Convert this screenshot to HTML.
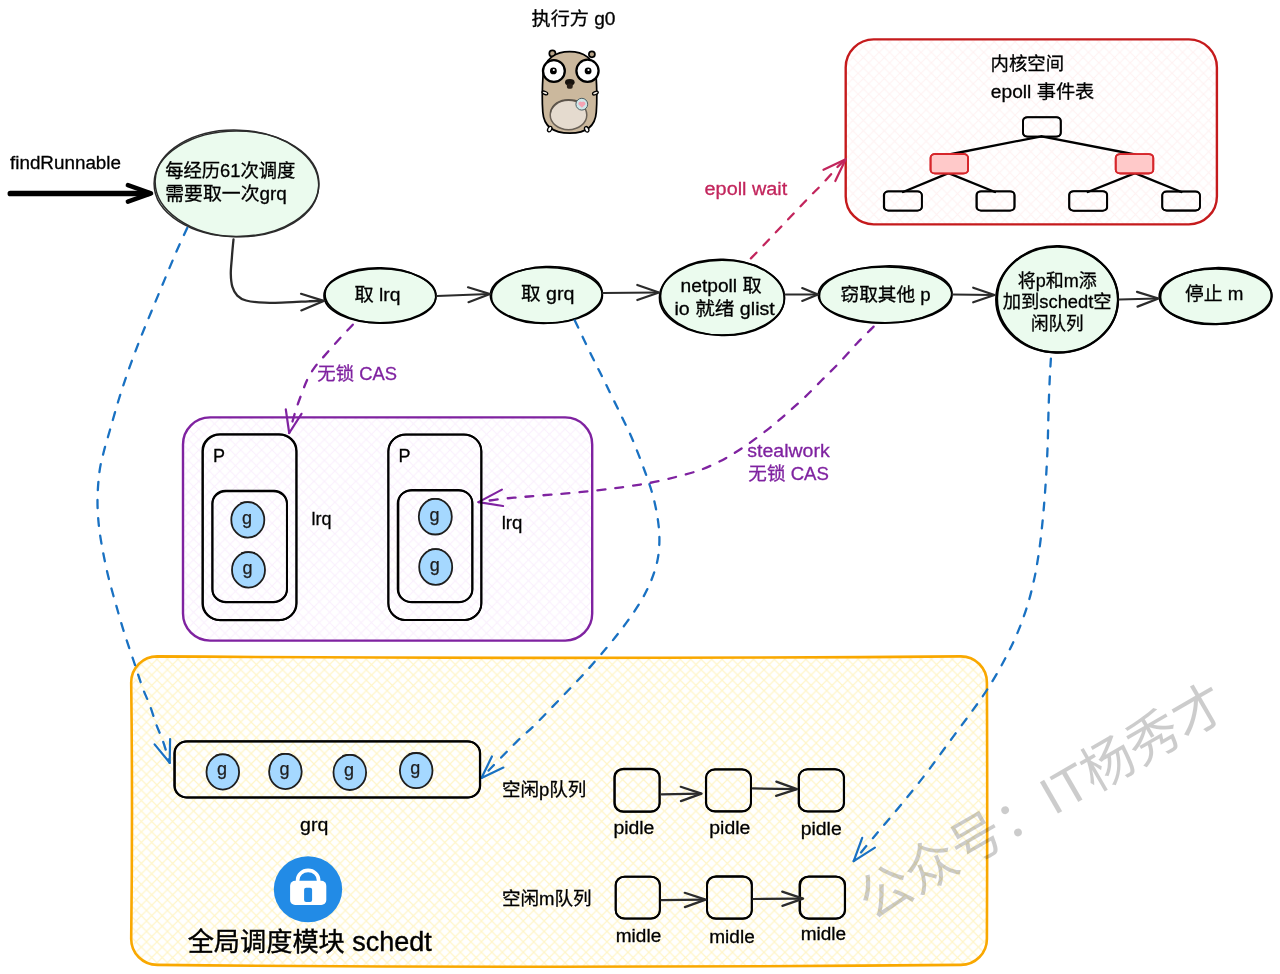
<!DOCTYPE html>
<html lang="zh-CN">
<head>
<meta charset="utf-8">
<title>findRunnable</title>
<style>
html,body{margin:0;padding:0;background:#fff;}
body{width:1280px;height:974px;overflow:hidden;}
svg{display:block;will-change:transform;font-family:'Liberation Sans', 'Noto Sans CJK SC', sans-serif;}
</style>
</head>
<body>
<svg width="1280" height="974" viewBox="0 0 1280 974">
<defs>
<pattern id="hy" width="10.465" height="10.465" patternUnits="userSpaceOnUse"><path d="M0 0L10.465 10.465M0 10.465L10.465 0" stroke="#fff5c9" stroke-width="1.2" fill="none" stroke-linecap="square"/></pattern>
<pattern id="hr" width="10.465" height="10.465" patternUnits="userSpaceOnUse"><path d="M0 0L10.465 10.465M0 10.465L10.465 0" stroke="#fff2f2" stroke-width="1.1" fill="none" stroke-linecap="square"/></pattern>
<pattern id="hp" width="10.465" height="10.465" patternUnits="userSpaceOnUse"><path d="M0 0L10.465 10.465M0 10.465L10.465 0" stroke="#faf0fd" stroke-width="1.15" fill="none" stroke-linecap="square"/></pattern>
</defs>
<rect x="845.7" y="39.4" width="371.2" height="185.0" rx="28" ry="28" fill="url(#hr)" stroke="#c51a1c" stroke-width="2.4" />
<rect x="183.0" y="417.4" width="409.2" height="223.2" rx="27" ry="27" fill="url(#hp)" stroke="#7f22a0" stroke-width="2.4" />
<path d="M157.2 656.4Q559.05 659.4 960.9 656.4A26 26 0 0 1 986.9 682.4Q987.5 810.65 986.9 938.9A26 26 0 0 1 960.9 964.9Q559.05 968.6999999999999 157.2 964.9A26 26 0 0 1 131.2 938.9Q132.79999999999998 810.65 131.2 682.4A26 26 0 0 1 157.2 656.4Z" fill="url(#hy)" stroke="#f9a800" stroke-width="2.6" stroke-linejoin="round"/>
<text x="531.5" y="25.0" font-size="18" fill="#000" stroke="#000" stroke-width="0.29" text-anchor="start" textLength="84.0" lengthAdjust="spacingAndGlyphs" >执行方 g0</text>
<g id="gopher" stroke="#000" stroke-linejoin="round">
<circle cx="552.4" cy="53.5" r="3.1" fill="#b8a488" stroke-width="1.700"/>
<circle cx="591.9" cy="54.3" r="3" fill="#b8a488" stroke-width="1.700"/>
<path d="M569.6 51.6c-13 0-25.500 6.500-26.500 22.500c-0.800 12-1.200 26-0.300 38c1 14 9.500 21 27 21s25.500-7 26.500-21c0.900-12 0.500-26-0.300-38c-1-16-13.400-22.500-26.400-22.500z" fill="#cbb89d" stroke-width="1.700"/>
<ellipse cx="568.5" cy="115" rx="18.300" ry="14.700" fill="#e5dbcf" stroke="#6a6157" stroke-width="1.500"/>
<path d="M550.600 112c1.500-8 9-12.200 18-12.300c4 0 7.500 0.600 10 1.800" fill="none" stroke="#5b5349" stroke-width="1.400" stroke-linecap="round"/>
<circle cx="553.9" cy="71" r="10.900" fill="#fff" stroke-width="2.300"/>
<circle cx="587.5" cy="70.800" r="11.100" fill="#fff" stroke-width="2.300"/>
<circle cx="553.4" cy="70.900" r="3.400" fill="#000" stroke="none"/>
<circle cx="588.1" cy="70.900" r="3.400" fill="#000" stroke="none"/>
<circle cx="553.8" cy="70" r="1.100" fill="#fff" stroke="none"/>
<circle cx="588.5" cy="70" r="1.100" fill="#fff" stroke="none"/>
<ellipse cx="569.8" cy="82.300" rx="4.800" ry="3.300" fill="#17120d" stroke="none"/>
<rect x="566.9" y="83.500" width="5.800" height="5.200" rx="1.800" fill="#2a2018" stroke="none"/>
<ellipse cx="544.9" cy="92.900" rx="3" ry="1.500" fill="#efe9e0" stroke-width="1.300" transform="rotate(22 544.9 92.9)"/>
<ellipse cx="595.4" cy="93.100" rx="3" ry="1.500" fill="#efe9e0" stroke-width="1.300" transform="rotate(-22 595.4 93.1)"/>
<ellipse cx="549.7" cy="129.100" rx="1.900" ry="2.900" fill="#fff" stroke-width="1.300" transform="rotate(28 549.7 129.1)"/>
<ellipse cx="586.7" cy="129.300" rx="1.900" ry="2.900" fill="#fff" stroke-width="1.300" transform="rotate(-28 586.7 129.3)"/>
<circle cx="581.8" cy="104.200" r="5.900" fill="#cfe8ea" stroke="#4d5e63" stroke-width="1"/>
<path d="M581.9 107.700l-3.400-3.300a2.100 2.100 0 0 1 3.400-2.300a2.100 2.100 0 0 1 3.400 2.300z" fill="#f4a3b3" stroke="none"/>
</g>
<text x="10.0" y="169.4" font-size="18" fill="#000" stroke="#000" stroke-width="0.29" text-anchor="start" textLength="111.0" lengthAdjust="spacingAndGlyphs" >findRunnable</text>
<path d="M10.3 193.6C50 193.2 100 194 149 193.4" fill="none" stroke="#000" stroke-width="5.5" stroke-linecap="round" stroke-linejoin="round"/>
<path d="M127.9 201.6L151.0 193.4L127.9 185.2" fill="none" stroke="#000" stroke-width="4.6" stroke-linecap="round" stroke-linejoin="round"/>
<ellipse cx="236.5" cy="183.7" rx="82.4" ry="52.8" fill="#ebfbee" stroke="#2b2b2b" stroke-width="1.5"/>
<ellipse cx="236.9" cy="183.4" rx="81.8" ry="53.3" fill="none" stroke="#2b2b2b" stroke-width="1.5" transform="rotate(2 236.5 183.7)"/>
<text x="165.2" y="177.2" font-size="18.2" fill="#000" stroke="#000" stroke-width="0.29" text-anchor="start" textLength="130.2" lengthAdjust="spacingAndGlyphs" >每经历61次调度</text>
<text x="165.2" y="200.4" font-size="18.2" fill="#000" stroke="#000" stroke-width="0.29" text-anchor="start" textLength="121.6" lengthAdjust="spacingAndGlyphs" >需要取一次grq</text>
<ellipse cx="380.0" cy="295.8" rx="56.0" ry="27.1" fill="#ebfbee" stroke="#000" stroke-width="1.7"/>
<ellipse cx="380.4" cy="295.5" rx="55.4" ry="27.6" fill="none" stroke="#000" stroke-width="1.7" transform="rotate(1.5 380.0 295.8)"/>
<text x="354.5" y="300.5" font-size="18" fill="#000" stroke="#000" stroke-width="0.29" text-anchor="start" textLength="46.0" lengthAdjust="spacingAndGlyphs" >取 lrq</text>
<ellipse cx="546.4" cy="295.3" rx="56.0" ry="27.8" fill="#ebfbee" stroke="#000" stroke-width="1.7"/>
<ellipse cx="546.8" cy="295.0" rx="55.4" ry="28.3" fill="none" stroke="#000" stroke-width="1.7" transform="rotate(-2 546.4 295.3)"/>
<text x="521.0" y="300.1" font-size="18" fill="#000" stroke="#000" stroke-width="0.29" text-anchor="start" textLength="53.5" lengthAdjust="spacingAndGlyphs" >取 grq</text>
<ellipse cx="722.0" cy="297.7" rx="62.5" ry="37.5" fill="#ebfbee" stroke="#000" stroke-width="1.7"/>
<ellipse cx="722.4" cy="297.4" rx="61.9" ry="38.0" fill="none" stroke="#000" stroke-width="1.7" transform="rotate(1.5 722.0 297.7)"/>
<text x="680.6" y="291.5" font-size="18" fill="#000" stroke="#000" stroke-width="0.29" text-anchor="start" textLength="81.0" lengthAdjust="spacingAndGlyphs" >netpoll 取</text>
<text x="674.4" y="315.0" font-size="18" fill="#000" stroke="#000" stroke-width="0.29" text-anchor="start" textLength="100.4" lengthAdjust="spacingAndGlyphs" >io 就绪 glist</text>
<ellipse cx="885.2" cy="294.8" rx="66.8" ry="28.0" fill="#ebfbee" stroke="#000" stroke-width="1.7"/>
<ellipse cx="885.6" cy="294.5" rx="66.2" ry="28.5" fill="none" stroke="#000" stroke-width="1.7" transform="rotate(-1.5 885.2 294.8)"/>
<text x="840.5" y="301.0" font-size="18" fill="#000" stroke="#000" stroke-width="0.29" text-anchor="start" textLength="90.2" lengthAdjust="spacingAndGlyphs" >窃取其他 p</text>
<ellipse cx="1057.1" cy="299.6" rx="61.0" ry="52.8" fill="#ebfbee" stroke="#000" stroke-width="2.1"/>
<ellipse cx="1057.5" cy="299.3" rx="60.4" ry="53.3" fill="none" stroke="#000" stroke-width="2.1" transform="rotate(2 1057.1 299.6)"/>
<text x="1057.2" y="286.5" font-size="18" fill="#000" stroke="#000" stroke-width="0.29" text-anchor="middle" textLength="79.0" lengthAdjust="spacingAndGlyphs" >将p和m添</text>
<text x="1057.2" y="308.2" font-size="18" fill="#000" stroke="#000" stroke-width="0.29" text-anchor="middle" textLength="109.0" lengthAdjust="spacingAndGlyphs" >加到schedt空</text>
<text x="1057.2" y="330.0" font-size="18" fill="#000" stroke="#000" stroke-width="0.29" text-anchor="middle" textLength="52.6" lengthAdjust="spacingAndGlyphs" >闲队列</text>
<ellipse cx="1215.6" cy="296.4" rx="56.2" ry="27.7" fill="#ebfbee" stroke="#000" stroke-width="2"/>
<ellipse cx="1216.0" cy="296.1" rx="55.6" ry="28.2" fill="none" stroke="#000" stroke-width="2" transform="rotate(-1.5 1215.6 296.4)"/>
<text x="1185.0" y="299.7" font-size="18" fill="#000" stroke="#000" stroke-width="0.29" text-anchor="start" textLength="58.4" lengthAdjust="spacingAndGlyphs" >停止 m</text>
<path d="M233.5 239.3C233.2 242.3 232.3 251.6 231.9 257.3C231.5 263.0 230.7 268.8 230.8 273.7C230.9 278.6 231.3 283.2 232.4 286.9C233.5 290.5 235.0 293.3 237.3 295.6C239.6 297.9 241.5 299.3 246.1 300.5C250.7 301.7 257.9 302.4 264.7 302.7C271.4 303.0 279.3 302.6 286.6 302.4C293.9 302.2 302.2 301.6 308.4 301.3C314.6 301.1 321.1 301.0 323.7 300.9" fill="none" stroke="#2b2b2b" stroke-width="2.3" stroke-linecap="round"/>
<path d="M301 293.8L323.700 300.9L301.300 310.400" fill="none" stroke="#2b2b2b" stroke-width="2.2" stroke-linecap="round" stroke-linejoin="round"/>
<path d="M437 296L489 294" fill="none" stroke="#2b2b2b" stroke-width="2.2" stroke-linecap="round" stroke-linejoin="round"/>
<path d="M468.5 302.2L490.0 294.0L468.0 287.3" fill="none" stroke="#2b2b2b" stroke-width="2.2" stroke-linecap="round" stroke-linejoin="round"/>
<path d="M603 293L658 292.500" fill="none" stroke="#2b2b2b" stroke-width="2.2" stroke-linecap="round" stroke-linejoin="round"/>
<path d="M637.3 300.0L659.0 292.5L637.3 285.0" fill="none" stroke="#2b2b2b" stroke-width="2.2" stroke-linecap="round" stroke-linejoin="round"/>
<path d="M785.500 294.500L817 294.500" fill="none" stroke="#2b2b2b" stroke-width="2.2" stroke-linecap="round" stroke-linejoin="round"/>
<path d="M802.2 300.9L818.0 294.5L802.2 288.1" fill="none" stroke="#2b2b2b" stroke-width="2.2" stroke-linecap="round" stroke-linejoin="round"/>
<path d="M952.500 294.500L993 295" fill="none" stroke="#2b2b2b" stroke-width="2.2" stroke-linecap="round" stroke-linejoin="round"/>
<path d="M973.2 302.3L994.5 295.0L973.2 287.7" fill="none" stroke="#2b2b2b" stroke-width="2.2" stroke-linecap="round" stroke-linejoin="round"/>
<path d="M1119.500 299.500L1157 298.500" fill="none" stroke="#2b2b2b" stroke-width="2.2" stroke-linecap="round" stroke-linejoin="round"/>
<path d="M1137.5 306.6L1158.5 298.5L1137.0 291.9" fill="none" stroke="#2b2b2b" stroke-width="2.2" stroke-linecap="round" stroke-linejoin="round"/>
<path d="M187.2 227.9C185.4 231.9 180.1 243.1 176.2 252.1C172.3 261.1 167.9 271.8 163.8 281.6C159.7 291.5 155.4 301.8 151.5 311.2C147.6 320.6 144.1 328.9 140.4 338.3C136.7 347.8 132.8 358.0 129.3 367.9C125.8 377.8 122.5 387.6 119.4 397.5C116.3 407.4 113.4 418.0 110.8 427.1C108.2 436.2 105.6 444.5 103.7 452.0C101.8 459.5 100.4 464.3 99.4 472.2C98.4 480.1 97.6 490.7 97.5 499.3C97.4 507.9 97.9 515.8 98.7 524.0C99.5 532.2 100.8 540.0 102.4 548.6C104.0 557.2 105.9 566.7 108.1 575.7C110.3 584.8 112.8 593.5 115.5 602.9C118.2 612.3 121.0 622.5 124.1 632.4C127.2 642.2 130.9 652.8 134.0 662.0C137.1 671.2 140.0 680.8 142.6 687.9C145.2 695.0 147.4 698.8 149.7 704.9C152.0 711.0 154.1 718.6 156.3 724.6C158.5 730.6 160.7 734.6 162.9 741.0C165.1 747.4 168.6 759.2 169.7 762.8" fill="none" stroke="#1971c2" stroke-width="2.3" stroke-linecap="round" stroke-linejoin="round" stroke-dasharray="8 10"/>
<path d="M154.6 744.4L169.7 762.8L170.1 739" fill="none" stroke="#1971c2" stroke-width="2.1999999999999997" stroke-linecap="round" stroke-linejoin="round"/>
<path d="M574.8 320.5C577.5 326.1 585.8 343.6 590.9 354.2C596.0 364.8 600.5 373.2 605.7 383.8C610.9 394.4 617.6 408.1 622.1 417.5C626.6 426.9 628.9 430.9 632.7 440.0C636.5 449.1 641.7 462.6 645.1 472.0C648.5 481.4 651.0 488.5 653.2 496.7C655.4 504.9 657.1 514.0 658.1 521.4C659.1 528.8 659.5 534.5 659.4 541.1C659.3 547.7 658.8 554.2 657.4 560.8C656.0 567.4 653.9 573.9 651.2 580.5C648.5 587.1 645.5 593.3 641.4 600.3C637.3 607.3 632.0 615.0 626.6 622.4C621.2 629.8 616.3 636.2 609.3 644.6C602.3 653.0 593.1 663.8 584.7 673.0C576.3 682.2 567.6 691.1 559.0 700.0C550.4 708.9 540.0 719.8 533.1 726.6C526.2 733.4 526.1 732.4 517.5 740.9C508.9 749.4 487.5 771.7 481.5 777.9" fill="none" stroke="#1971c2" stroke-width="2.3" stroke-linecap="round" stroke-linejoin="round" stroke-dasharray="8 10"/>
<path d="M491.9 756.5L481.5 777.9L503.4 767.6" fill="none" stroke="#1971c2" stroke-width="2.1999999999999997" stroke-linecap="round" stroke-linejoin="round"/>
<path d="M1050.9 358.6C1050.7 362.1 1050.1 370.8 1049.7 379.6C1049.3 388.4 1048.8 400.9 1048.5 411.6C1048.2 422.3 1048.1 432.6 1047.7 443.7C1047.3 454.8 1046.7 467.1 1046.0 478.2C1045.3 489.3 1044.5 500.0 1043.6 510.3C1042.7 520.6 1041.6 531.2 1040.6 539.8C1039.6 548.4 1038.5 555.3 1037.4 562.0C1036.3 568.7 1035.6 573.0 1034.0 580.0C1032.4 587.0 1030.6 595.3 1027.9 603.9C1025.2 612.5 1021.9 622.4 1018.0 631.6C1014.1 640.8 1009.8 649.8 1004.8 659.3C999.8 668.8 993.7 679.4 987.8 688.6C981.9 697.9 976.1 705.6 969.4 714.8C962.7 724.0 955.0 734.2 947.8 744.0C940.6 753.8 933.9 763.3 926.2 773.3C918.5 783.3 909.8 794.1 901.6 804.1C893.4 814.1 885.0 823.8 877.0 833.3C869.0 842.8 857.6 856.5 853.7 861.1" fill="none" stroke="#1971c2" stroke-width="2.3" stroke-linecap="round" stroke-linejoin="round" stroke-dasharray="8 10"/>
<path d="M862.2 837.8L853.7 861.1L874.9 847.6" fill="none" stroke="#1971c2" stroke-width="2.1999999999999997" stroke-linecap="round" stroke-linejoin="round"/>
<path d="M352.8 324.7C351.0 326.6 345.8 332.0 342.1 336.0C338.4 340.0 334.3 344.7 330.7 348.7C327.1 352.7 323.5 356.9 320.7 360.1C317.9 363.3 316.3 364.9 314.1 368.1C311.9 371.3 309.4 375.3 307.4 379.4C305.4 383.5 303.8 388.1 302.0 392.8C300.2 397.5 298.2 402.8 296.7 407.5C295.1 412.2 293.9 416.6 292.7 420.8C291.4 425.1 289.8 431.0 289.2 433.0" fill="none" stroke="#7f22a0" stroke-width="2.3" stroke-linecap="round" stroke-linejoin="round" stroke-dasharray="8 10"/>
<path d="M285.8 409.4L289.2 433L301.5 413.8" fill="none" stroke="#7f22a0" stroke-width="2.1999999999999997" stroke-linecap="round" stroke-linejoin="round"/>
<path d="M873.6 326.6C870.9 329.4 862.8 337.2 857.1 343.2C851.4 349.2 845.4 356.3 839.6 362.4C833.8 368.5 828.0 374.0 822.2 379.8C816.4 385.6 810.5 391.8 804.7 397.3C798.9 402.8 793.1 407.9 787.3 413.0C781.5 418.1 776.2 422.7 769.8 427.8C763.4 432.9 755.3 439.0 748.9 443.5C742.5 448.0 736.8 451.6 731.4 454.9C726.0 458.1 722.1 460.4 716.5 463.0C710.9 465.6 704.8 468.5 698.0 470.8C691.2 473.1 684.1 474.9 675.9 477.0C667.7 479.1 657.8 481.4 648.8 483.1C639.8 484.8 631.1 486.0 621.6 487.3C612.1 488.6 602.3 489.9 592.0 491.0C581.7 492.1 570.6 493.0 560.0 493.9C549.4 494.8 537.9 495.7 528.6 496.5C519.3 497.3 512.8 497.7 504.4 498.6C496.0 499.5 482.8 501.5 478.5 502.1" fill="none" stroke="#7f22a0" stroke-width="2.3" stroke-linecap="round" stroke-linejoin="round" stroke-dasharray="8 10"/>
<path d="M501.9 489.6L478.5 502.1L503.1 506" fill="none" stroke="#7f22a0" stroke-width="2.1999999999999997" stroke-linecap="round" stroke-linejoin="round"/>
<path d="M750.9 258.4C753.2 256.0 760.2 248.8 764.5 244.3C768.8 239.8 772.9 235.4 776.8 231.3C780.7 227.2 784.2 223.5 787.9 219.6C791.6 215.7 795.3 211.8 799.0 207.9C802.7 204.0 806.4 200.0 810.1 196.2C813.8 192.4 817.5 189.0 821.2 185.1C824.9 181.2 829.6 175.8 832.3 172.8C835.0 169.8 835.0 169.6 837.2 167.3C839.4 165.0 844.3 160.5 845.7 159.2" fill="none" stroke="#c2255c" stroke-width="2.3" stroke-linecap="round" stroke-linejoin="round" stroke-dasharray="8 10"/>
<path d="M823.5 169.8L845.7 159.2L835.3 181" fill="none" stroke="#c2255c" stroke-width="2.1999999999999997" stroke-linecap="round" stroke-linejoin="round"/>
<text x="704.6" y="195.3" font-size="18" fill="#c2255c" stroke="#c2255c" stroke-width="0.29" text-anchor="start" textLength="82.6" lengthAdjust="spacingAndGlyphs" >epoll wait</text>
<text x="317.3" y="379.5" font-size="18" fill="#7f22a0" stroke="#7f22a0" stroke-width="0.29" text-anchor="start" textLength="79.6" lengthAdjust="spacingAndGlyphs" >无锁 CAS</text>
<text x="747.3" y="457.2" font-size="18" fill="#7f22a0" stroke="#7f22a0" stroke-width="0.29" text-anchor="start" textLength="82.4" lengthAdjust="spacingAndGlyphs" >stealwork</text>
<text x="748.3" y="480.2" font-size="18" fill="#7f22a0" stroke="#7f22a0" stroke-width="0.29" text-anchor="start" textLength="80.6" lengthAdjust="spacingAndGlyphs" >无锁 CAS</text>
<text x="990.6" y="69.6" font-size="18" fill="#000" stroke="#000" stroke-width="0.29" text-anchor="start" textLength="73.4" lengthAdjust="spacingAndGlyphs" >内核空间</text>
<text x="990.8" y="97.6" font-size="18" fill="#000" stroke="#000" stroke-width="0.29" text-anchor="start" textLength="103.5" lengthAdjust="spacingAndGlyphs" >epoll 事件表</text>
<path d="M1041.5 136.3L949.2 154.5" stroke="#000" stroke-width="2.300" stroke-linecap="round"/>
<path d="M1041.5 136.3L1135 154.5" stroke="#000" stroke-width="2.300" stroke-linecap="round"/>
<path d="M948.5 173.1L903 192" stroke="#000" stroke-width="2.300" stroke-linecap="round"/>
<path d="M948.5 173.1L995 192" stroke="#000" stroke-width="2.300" stroke-linecap="round"/>
<path d="M1135 173.1L1087.8 192" stroke="#000" stroke-width="2.300" stroke-linecap="round"/>
<path d="M1135 173.1L1181.4 192" stroke="#000" stroke-width="2.300" stroke-linecap="round"/>
<rect x="1023.1" y="117.4" width="37.6" height="19.2" rx="4" ry="4" fill="none" stroke="#000" stroke-width="1.8"/>
<rect x="1023.0" y="117.1" width="37.8" height="19.6" rx="4.8" ry="3.4" fill="none" stroke="#000" stroke-width="1.8"/>
<rect x="930.5" y="154.2" width="37.6" height="19.2" rx="4" ry="4" fill="#ffc9c9" stroke="#d6262b" stroke-width="1.8"/>
<rect x="930.6" y="153.9" width="37.4" height="19.7" rx="4.8" ry="3.4" fill="none" stroke="#d6262b" stroke-width="1.8"/>
<rect x="1115.7" y="154.2" width="37.6" height="19.2" rx="4" ry="4" fill="#ffc9c9" stroke="#d6262b" stroke-width="1.8"/>
<rect x="1115.7" y="154.1" width="37.6" height="19.4" rx="4.8" ry="3.4" fill="none" stroke="#d6262b" stroke-width="1.8"/>
<rect x="884.2" y="191.4" width="37.6" height="19.2" rx="4" ry="4" fill="none" stroke="#000" stroke-width="1.8"/>
<rect x="883.8" y="191.4" width="38.1" height="19.2" rx="4.8" ry="3.4" fill="none" stroke="#000" stroke-width="1.8"/>
<rect x="976.8" y="191.4" width="37.6" height="19.2" rx="4" ry="4" fill="none" stroke="#000" stroke-width="1.8"/>
<rect x="976.4" y="191.3" width="38.2" height="19.3" rx="4.8" ry="3.4" fill="none" stroke="#000" stroke-width="1.8"/>
<rect x="1069.4" y="191.4" width="37.6" height="19.2" rx="4" ry="4" fill="none" stroke="#000" stroke-width="1.8"/>
<rect x="1069.1" y="191.1" width="38.1" height="19.7" rx="4.8" ry="3.4" fill="none" stroke="#000" stroke-width="1.8"/>
<rect x="1162.3" y="191.4" width="37.6" height="19.2" rx="4" ry="4" fill="none" stroke="#000" stroke-width="1.8"/>
<rect x="1162.2" y="191.7" width="37.7" height="18.8" rx="4.8" ry="3.4" fill="none" stroke="#000" stroke-width="1.8"/>
<rect x="202.9" y="434.6" width="93.4" height="185.4" rx="17" ry="17" fill="none" stroke="#000" stroke-width="1.9"/>
<rect x="202.4" y="434.2" width="94.2" height="186.0" rx="17.8" ry="16.4" fill="none" stroke="#000" stroke-width="1.9"/>
<rect x="212.3" y="490.6" width="74.7" height="111.6" rx="13" ry="13" fill="none" stroke="#000" stroke-width="1.9"/>
<rect x="212.5" y="491.2" width="74.4" height="110.7" rx="13.8" ry="12.4" fill="none" stroke="#000" stroke-width="1.9"/>
<ellipse cx="247.8" cy="519.9" rx="16.5" ry="17.8" fill="#a5d8ff" stroke="#1e1e1e" stroke-width="1.800"/>
<path d="M240.8 502.9Q246.8 500.9 253.8 502.7" fill="none" stroke="#1e1e1e" stroke-width="1.200" stroke-linecap="round"/>
<text x="246.9" y="524.1" font-size="18" fill="#1e1e1e" stroke="#1e1e1e" stroke-width="0.25" text-anchor="middle">g</text>
<ellipse cx="248.5" cy="569.9" rx="16.5" ry="17.8" fill="#a5d8ff" stroke="#1e1e1e" stroke-width="1.800"/>
<path d="M241.5 552.9Q247.5 550.9 254.5 552.7" fill="none" stroke="#1e1e1e" stroke-width="1.200" stroke-linecap="round"/>
<text x="247.6" y="574.1" font-size="18" fill="#1e1e1e" stroke="#1e1e1e" stroke-width="0.25" text-anchor="middle">g</text>
<text x="213.0" y="462.2" font-size="18" fill="#000" stroke="#000" stroke-width="0.29" text-anchor="start" >P</text>
<rect x="388.3" y="434.6" width="93.1" height="185.4" rx="17" ry="17" fill="none" stroke="#000" stroke-width="1.9"/>
<rect x="388.4" y="434.5" width="92.9" height="185.6" rx="17.8" ry="16.4" fill="none" stroke="#000" stroke-width="1.9"/>
<rect x="397.7" y="490.6" width="74.8" height="111.3" rx="13" ry="13" fill="none" stroke="#000" stroke-width="1.9"/>
<rect x="398.4" y="490.0" width="73.8" height="112.3" rx="13.8" ry="12.4" fill="none" stroke="#000" stroke-width="1.9"/>
<ellipse cx="435.3" cy="516.7" rx="16.5" ry="17.8" fill="#a5d8ff" stroke="#1e1e1e" stroke-width="1.800"/>
<path d="M428.3 499.70000000000005Q434.3 497.70000000000005 441.3 499.50000000000006" fill="none" stroke="#1e1e1e" stroke-width="1.200" stroke-linecap="round"/>
<text x="434.4" y="520.7" font-size="18" fill="#1e1e1e" stroke="#1e1e1e" stroke-width="0.25" text-anchor="middle">g</text>
<ellipse cx="435.7" cy="567" rx="16.5" ry="17.8" fill="#a5d8ff" stroke="#1e1e1e" stroke-width="1.800"/>
<path d="M428.7 550.0Q434.7 548.0 441.7 549.8000000000001" fill="none" stroke="#1e1e1e" stroke-width="1.200" stroke-linecap="round"/>
<text x="434.8" y="570.8" font-size="18" fill="#1e1e1e" stroke="#1e1e1e" stroke-width="0.25" text-anchor="middle">g</text>
<text x="398.5" y="462.2" font-size="18" fill="#000" stroke="#000" stroke-width="0.29" text-anchor="start" >P</text>
<text x="311.6" y="525.1" font-size="18" fill="#000" stroke="#000" stroke-width="0.29" text-anchor="start" textLength="20.0" lengthAdjust="spacingAndGlyphs" >lrq</text>
<text x="501.7" y="529.2" font-size="18" fill="#000" stroke="#000" stroke-width="0.29" text-anchor="start" textLength="20.7" lengthAdjust="spacingAndGlyphs" >lrq</text>
<rect x="174.3" y="741.6" width="305.9" height="55.8" rx="12" ry="12" fill="none" stroke="#000" stroke-width="2"/>
<rect x="174.8" y="741.3" width="305.1" height="56.2" rx="12.8" ry="11.4" fill="none" stroke="#000" stroke-width="2"/>
<ellipse cx="222.8" cy="772" rx="16.3" ry="17.6" fill="#a5d8ff" stroke="#1e1e1e" stroke-width="1.800"/>
<path d="M215.8 755.1999999999999Q221.8 753.1999999999999 228.8 755.0" fill="none" stroke="#1e1e1e" stroke-width="1.200" stroke-linecap="round"/>
<text x="221.9" y="775.1" font-size="18" fill="#1e1e1e" stroke="#1e1e1e" stroke-width="0.25" text-anchor="middle">g</text>
<ellipse cx="285.4" cy="771.5" rx="16.3" ry="17.6" fill="#a5d8ff" stroke="#1e1e1e" stroke-width="1.800"/>
<path d="M278.4 754.6999999999999Q284.4 752.6999999999999 291.4 754.5" fill="none" stroke="#1e1e1e" stroke-width="1.200" stroke-linecap="round"/>
<text x="284.5" y="774.6" font-size="18" fill="#1e1e1e" stroke="#1e1e1e" stroke-width="0.25" text-anchor="middle">g</text>
<ellipse cx="349.8" cy="772.4" rx="16.3" ry="17.6" fill="#a5d8ff" stroke="#1e1e1e" stroke-width="1.800"/>
<path d="M342.8 755.5999999999999Q348.8 753.5999999999999 355.8 755.4" fill="none" stroke="#1e1e1e" stroke-width="1.200" stroke-linecap="round"/>
<text x="348.9" y="775.5" font-size="18" fill="#1e1e1e" stroke="#1e1e1e" stroke-width="0.25" text-anchor="middle">g</text>
<ellipse cx="416.2" cy="770.6" rx="16.3" ry="17.6" fill="#a5d8ff" stroke="#1e1e1e" stroke-width="1.800"/>
<path d="M409.2 753.8Q415.2 751.8 422.2 753.6" fill="none" stroke="#1e1e1e" stroke-width="1.200" stroke-linecap="round"/>
<text x="415.3" y="773.7" font-size="18" fill="#1e1e1e" stroke="#1e1e1e" stroke-width="0.25" text-anchor="middle">g</text>
<text x="300.1" y="831.4" font-size="18" fill="#000" stroke="#000" stroke-width="0.29" text-anchor="start" textLength="28.2" lengthAdjust="spacingAndGlyphs" >grq</text>
<ellipse cx="308" cy="889.3" rx="34.2" ry="33" fill="#228be6"/>
<path d="M297.6 882.5v-2.2a10.500 10 0 0 1 21 0v2.200" fill="none" stroke="#fff" stroke-width="3.700"/>
<rect x="290.1" y="880.8" width="36.200" height="24.200" rx="5" fill="#fff"/>
<rect x="304.100" y="887.8" width="8" height="14.100" rx="2" fill="#228be6"/>
<text x="187.700" y="950.6" font-size="26.2" fill="#000" stroke="#000" stroke-width="0.4">全局调度模块<tspan x="352.300" font-size="27">schedt</tspan></text>
<text x="502.0" y="796.0" font-size="18" fill="#000" stroke="#000" stroke-width="0.29" text-anchor="start" textLength="84.4" lengthAdjust="spacingAndGlyphs" >空闲p队列</text>
<text x="502.0" y="904.8" font-size="18" fill="#000" stroke="#000" stroke-width="0.29" text-anchor="start" textLength="89.6" lengthAdjust="spacingAndGlyphs" >空闲m队列</text>
<rect x="614.8" y="769.2" width="44.7" height="42.3" rx="8.5" ry="8.5" fill="none" stroke="#000" stroke-width="1.9"/>
<rect x="614.3" y="768.7" width="45.4" height="43.1" rx="9.3" ry="7.9" fill="none" stroke="#000" stroke-width="1.9"/>
<rect x="706.2" y="769.2" width="44.7" height="42.3" rx="8.5" ry="8.5" fill="none" stroke="#000" stroke-width="1.9"/>
<rect x="705.9" y="769.6" width="45.1" height="41.6" rx="9.3" ry="7.9" fill="none" stroke="#000" stroke-width="1.9"/>
<rect x="799.0" y="769.2" width="44.8" height="42.3" rx="8.5" ry="8.5" fill="none" stroke="#000" stroke-width="1.9"/>
<rect x="798.6" y="769.3" width="45.5" height="42.1" rx="9.3" ry="7.9" fill="none" stroke="#000" stroke-width="1.9"/>
<rect x="615.6" y="876.8" width="44.3" height="41.7" rx="8.5" ry="8.5" fill="none" stroke="#000" stroke-width="1.9"/>
<rect x="615.8" y="876.6" width="44.0" height="42.0" rx="9.3" ry="7.9" fill="none" stroke="#000" stroke-width="1.9"/>
<rect x="707.0" y="876.8" width="44.8" height="41.7" rx="8.5" ry="8.5" fill="none" stroke="#000" stroke-width="1.9"/>
<rect x="707.1" y="876.2" width="44.7" height="42.6" rx="9.3" ry="7.9" fill="none" stroke="#000" stroke-width="1.9"/>
<rect x="800.1" y="876.8" width="44.7" height="41.7" rx="8.5" ry="8.5" fill="none" stroke="#000" stroke-width="1.9"/>
<rect x="799.5" y="876.4" width="45.6" height="42.3" rx="9.3" ry="7.9" fill="none" stroke="#000" stroke-width="1.9"/>
<path d="M661.500 794.300L700.500 793.600" fill="none" stroke="#2b2b2b" stroke-width="2.2" stroke-linecap="round" stroke-linejoin="round"/>
<path d="M680.9 801.1L701.6 793.6L680.7 786.8" fill="none" stroke="#2b2b2b" stroke-width="2.2" stroke-linecap="round" stroke-linejoin="round"/>
<path d="M752.800 788.400L796 789.100" fill="none" stroke="#2b2b2b" stroke-width="2.2" stroke-linecap="round" stroke-linejoin="round"/>
<path d="M776.1 795.9L797.0 789.1L776.3 781.6" fill="none" stroke="#2b2b2b" stroke-width="2.2" stroke-linecap="round" stroke-linejoin="round"/>
<path d="M661.500 900.200L704.500 899.600" fill="none" stroke="#2b2b2b" stroke-width="2.2" stroke-linecap="round" stroke-linejoin="round"/>
<path d="M684.9 907.1L705.6 899.6L684.7 892.8" fill="none" stroke="#2b2b2b" stroke-width="2.2" stroke-linecap="round" stroke-linejoin="round"/>
<path d="M753.400 899L802 898.600" fill="none" stroke="#2b2b2b" stroke-width="2.2" stroke-linecap="round" stroke-linejoin="round"/>
<path d="M782.4 905.9L803.1 898.6L782.2 891.6" fill="none" stroke="#2b2b2b" stroke-width="2.2" stroke-linecap="round" stroke-linejoin="round"/>
<text x="613.4" y="834.2" font-size="18" fill="#000" stroke="#000" stroke-width="0.29" text-anchor="start" textLength="41.0" lengthAdjust="spacingAndGlyphs" >pidle</text>
<text x="709.3" y="833.8" font-size="18" fill="#000" stroke="#000" stroke-width="0.29" text-anchor="start" textLength="41.0" lengthAdjust="spacingAndGlyphs" >pidle</text>
<text x="800.7" y="835.2" font-size="18" fill="#000" stroke="#000" stroke-width="0.29" text-anchor="start" textLength="41.0" lengthAdjust="spacingAndGlyphs" >pidle</text>
<text x="615.8" y="942.2" font-size="18" fill="#000" stroke="#000" stroke-width="0.29" text-anchor="start" textLength="45.4" lengthAdjust="spacingAndGlyphs" >midle</text>
<text x="709.3" y="942.8" font-size="18" fill="#000" stroke="#000" stroke-width="0.29" text-anchor="start" textLength="45.4" lengthAdjust="spacingAndGlyphs" >midle</text>
<text x="800.7" y="940.2" font-size="18" fill="#000" stroke="#000" stroke-width="0.29" text-anchor="start" textLength="45.4" lengthAdjust="spacingAndGlyphs" >midle</text>
<text x="0" y="0" font-size="52.5" fill="#000" fill-opacity="0.2" transform="translate(872 921) rotate(-30)">公众号：IT杨秀才</text>
</svg>
</body>
</html>
